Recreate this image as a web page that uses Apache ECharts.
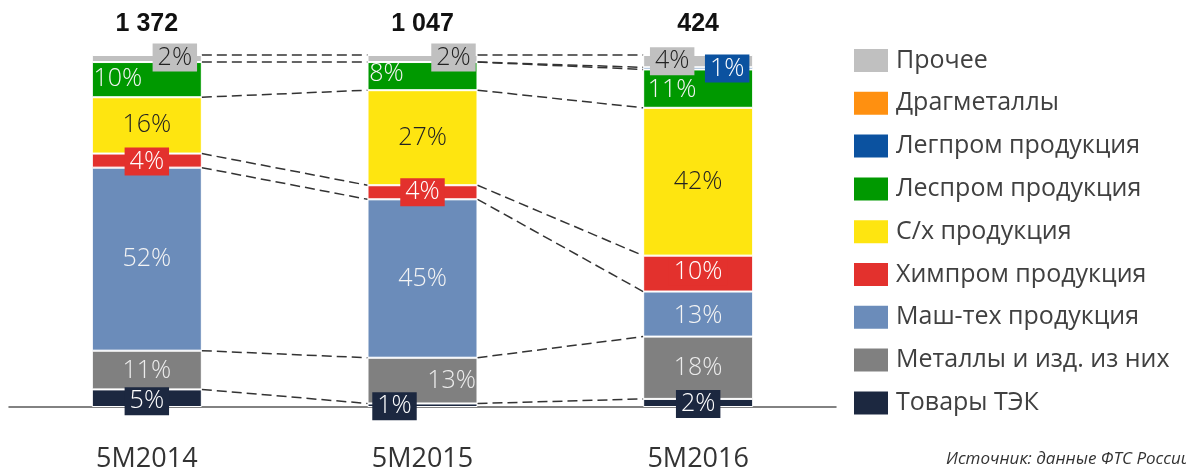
<!DOCTYPE html>
<html>
<head>
<meta charset="utf-8">
<script src="https://cdn.jsdelivr.net/npm/echarts@6/dist/echarts.min.js"></script>
<style>
  html, body { margin: 0; padding: 0; background: #fff; }
  #chart { width: 1186px; height: 473px; }
</style>
</head>
<body>
<div id="chart"></div>
<script>
// export structure by period, % of total (stack order: bottom -> top)
const categories = ['5M2014', '5M2015', '5M2016'];
const totals = ['1 372', '1 047', '424'];

const tek = [5, 1, 2.3];
const metals = [11, 13, 17.7];
const mash = [52, 45, 12.8];
const him = [4, 4, 10.2];
const agro = [16, 27, 42];
const les = [10, 8, 10.9];
const legprom = [0, 0, 0.6];
const drag = [0, 0, 0];
const other = [2, 2, 3.5];

const FONT = '"Open Sans", Lato, sans-serif';

const seriesDefs = [
  { name: 'Товары ТЭК', data: tek, color: '#1c2840', text: '#fff', box: true },
  { name: 'Металлы и изд. из них', data: metals, color: '#808080', text: '#ececec' },
  { name: 'Маш-тех продукция', data: mash, color: '#6b8cba', text: '#f4f4f4' },
  { name: 'Химпром продукция', data: him, color: '#e3312d', text: '#fff', box: true },
  { name: 'С/х продукция', data: agro, color: '#fee510', text: '#222' },
  { name: 'Леспром продукция', data: les, color: '#009900', text: '#f4f4f4' },
  { name: 'Легпром продукция', data: legprom, color: '#0b52a0', text: '#fff', box: true },
  { name: 'Драгметаллы', data: drag, color: '#ff9010', text: '#fff' },
  { name: 'Прочее', data: other, color: '#c0c0c0', text: '#222', box: true },
];

// label nudges per bar, [dx, dy]
const labelOffsets = {
  'Товары ТЭК': [[0, 3], [-28, 1], [0, 1]],
  'Металлы и изд. из них': [[0, 1], [29, 0], [0, 0]],
  'Маш-тех продукция': [[0, 0], [0, 0], [0, 2]],
  'Химпром продукция': [[0, 1], [0, 0], [0, -2]],
  'С/х продукция': [[0, -1], [0, 0], [0, 0]],
  'Леспром продукция': [[-29, -1], [-36, -2], [-26, 1]],
  'Легпром продукция': [[0, 0], [0, 0], [29, 0]],
  'Драгметаллы': [[0, 0], [0, 0], [0, 0]],
  'Прочее': [[28, -1], [31, -1], [-26, 0]],
};

const barSeries = seriesDefs.map(def => ({
  name: def.name,
  type: 'bar',
  stack: 'total',
  barWidth: 110,
  itemStyle: { color: def.color, borderColor: '#fff', borderWidth: 1 },
  data: def.data.map((v, i) => ({
    value: v,
    itemStyle: v === 0 ? { borderWidth: 0 } : undefined,
    label: {
      show: v > 0,
      position: 'inside',
      offset: labelOffsets[def.name][i],
      formatter: p => Math.round(p.value) + '%',
      color: def.text,
      fontFamily: FONT,
      fontWeight: 300,
      fontSize: 25,
      backgroundColor: def.box ? def.color : 'transparent',
      padding: def.box ? [2, 5, 1, 5] : 0,
    },
  })),
}));

// dashed connectors between neighbouring bars at every segment boundary
const connectors = [];
for (let i = 0; i < categories.length - 1; i++) {
  let cumA = 0, cumB = 0;
  seriesDefs.forEach((def, k) => {
    cumA += def.data[i];
    cumB += def.data[i + 1];
    const isTop = k === seriesDefs.length - 1;
    if (!isTop && def.data[i] === 0 && def.data[i + 1] === 0) return;
    connectors.push([i, cumA, cumB]);
  });
}

const chart = echarts.init(document.getElementById('chart'));
chart.setOption({
  animation: false,
  textStyle: { fontFamily: FONT },
  title: {
    text: 'Источник: данные ФТС России',
    left: 941,
    top: 446,
    textStyle: { fontFamily: FONT, fontStyle: 'italic', fontWeight: 'normal', fontSize: 17, color: '#333' },
  },
  legend: {
    orient: 'vertical',
    left: 847,
    top: 41,
    icon: 'rect',
    itemWidth: 36,
    itemHeight: 25,
    itemGap: 13.8,
    data: seriesDefs.map(d => d.name).reverse(),
    textStyle: { fontFamily: FONT, fontSize: 25, color: '#404040', padding: [0, 0, 0, 2], lineHeight: 29 },
  },
  grid: { left: 9, width: 827, top: 55, bottom: 64 },
  xAxis: [
    {
      type: 'category',
      data: categories,
      axisLine: { lineStyle: { color: '#595959', width: 1.5 } },
      axisTick: { show: false },
      axisLabel: { margin: 39, fontFamily: FONT, fontSize: 27, color: '#333' },
    },
    {
      type: 'category',
      position: 'top',
      data: totals,
      axisLine: { show: false },
      axisTick: { show: false },
      axisLabel: { margin: 18, fontFamily: '"Liberation Sans", Arial, sans-serif', fontWeight: 'bold', fontSize: 25, color: '#111' },
    },
  ],
  yAxis: { type: 'value', min: 0, max: 100, show: false },
  series: [
    ...barSeries,
    {
      type: 'custom',
      name: 'connectors',
      silent: true,
      data: connectors,
      encode: { x: 0, y: [1, 2] },
      renderItem: (params, api) => {
        const i = api.value(0);
        const half = 55;
        const a = api.coord([i, api.value(1)]);
        const b = api.coord([i + 1, api.value(2)]);
        return {
          type: 'line',
          shape: { x1: a[0] + half, y1: a[1], x2: b[0] - half, y2: b[1] },
          style: { stroke: '#333', lineWidth: 1.5, lineDash: [10, 5] },
        };
      },
    },
  ],
});
</script>
</body>
</html>
